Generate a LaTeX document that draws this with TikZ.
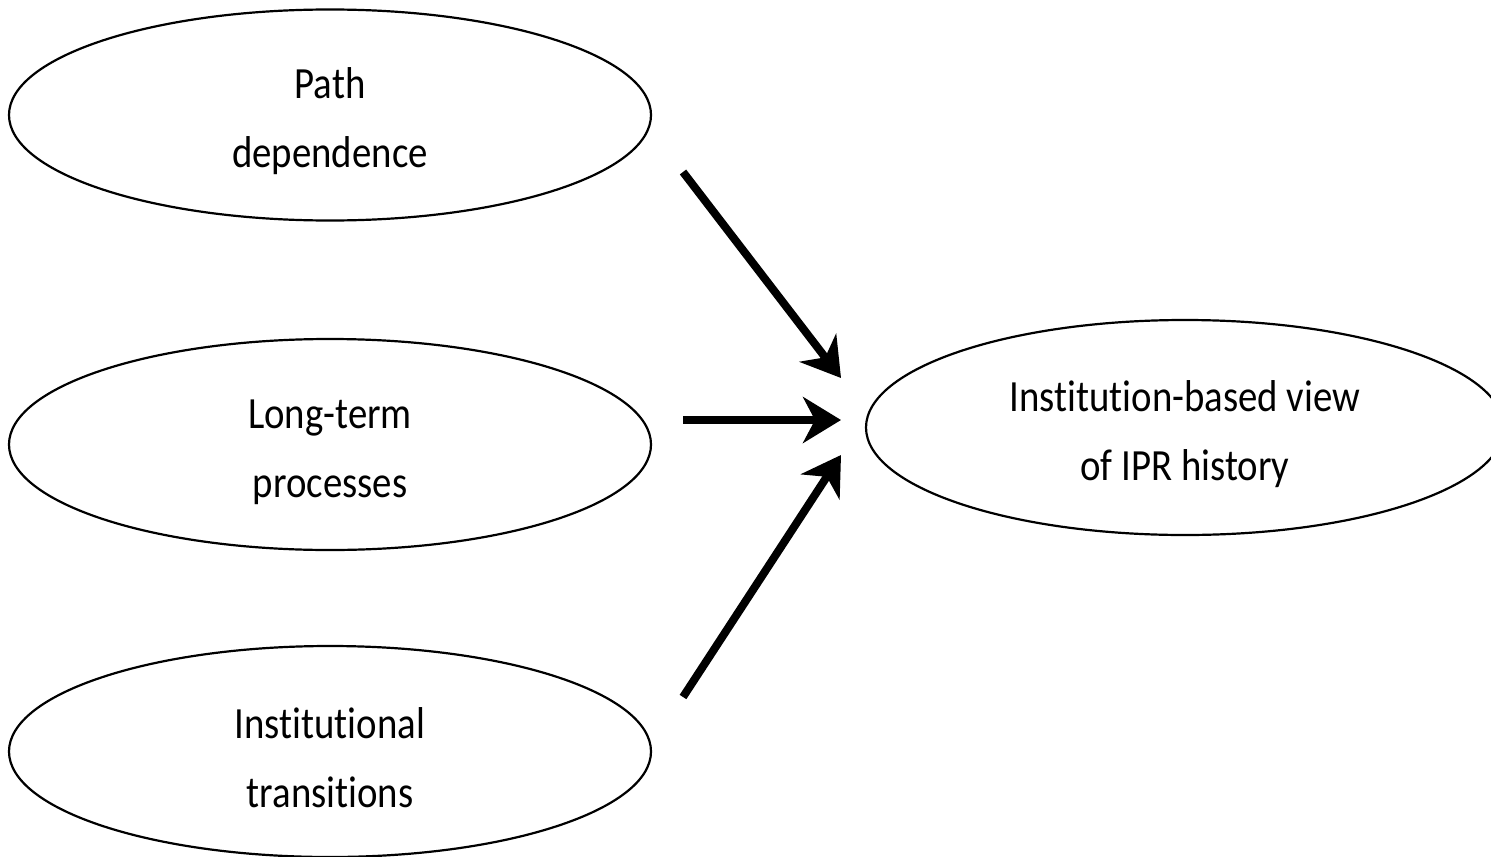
\documentclass[tikz,border=0pt]{standalone}
\usepackage{fontspec}
\setmainfont{Carlito}
\newfontfamily\ovalfont[FakeStretch=0.87, Ligatures=NoCommon]{Carlito}
\usetikzlibrary{shapes.geometric, arrows.meta}

% two lines, pushed a little below the middle
\newcommand\twolines[2]{\rule{0pt}{22pt}#1\\#2}

\tikzset{
  oval/.style={ellipse, draw, line width=1.1pt, minimum width=321pt, minimum height=105.5pt,
    inner sep=0pt, align=center, font=\ovalfont\fontsize{22.3}{34.5}\selectfont},
  fat arrow/.style={line width=4pt, -{Stealth[length=19pt, width=23pt, inset=6pt]}}
}

\begin{document}
\begin{tikzpicture}[x=0.5pt, y=-0.5pt]

\clip (0,0) rectangle (1491,856);

% left column
\node[oval] (pathdep) at (330,115) {\twolines{Path}{dependence}};
\node[oval] (longterm) at (330,444.5) {\twolines{Long-term}{processes}};
\node[oval] (transit) at (330,751.5) {\twolines{Institutional}{transitions}};

% right
\node[oval, minimum width=319pt, minimum height=107.5pt] (ibv) at (1185,427.5) {\twolines{Institution-based view}{of IPR history}};

% arrows
\coordinate (s1) at (683,172);
\coordinate (e1) at (841,378);
\coordinate (s2) at (683,420);
\coordinate (e2) at (841,420);
\coordinate (s3) at (683,697);
\coordinate (e3) at (841,455);

\draw[fat arrow] (s1) -- (e1);
\draw[fat arrow] (s2) -- (e2);
\draw[fat arrow] (s3) -- (e3);

\end{tikzpicture}
\end{document}
